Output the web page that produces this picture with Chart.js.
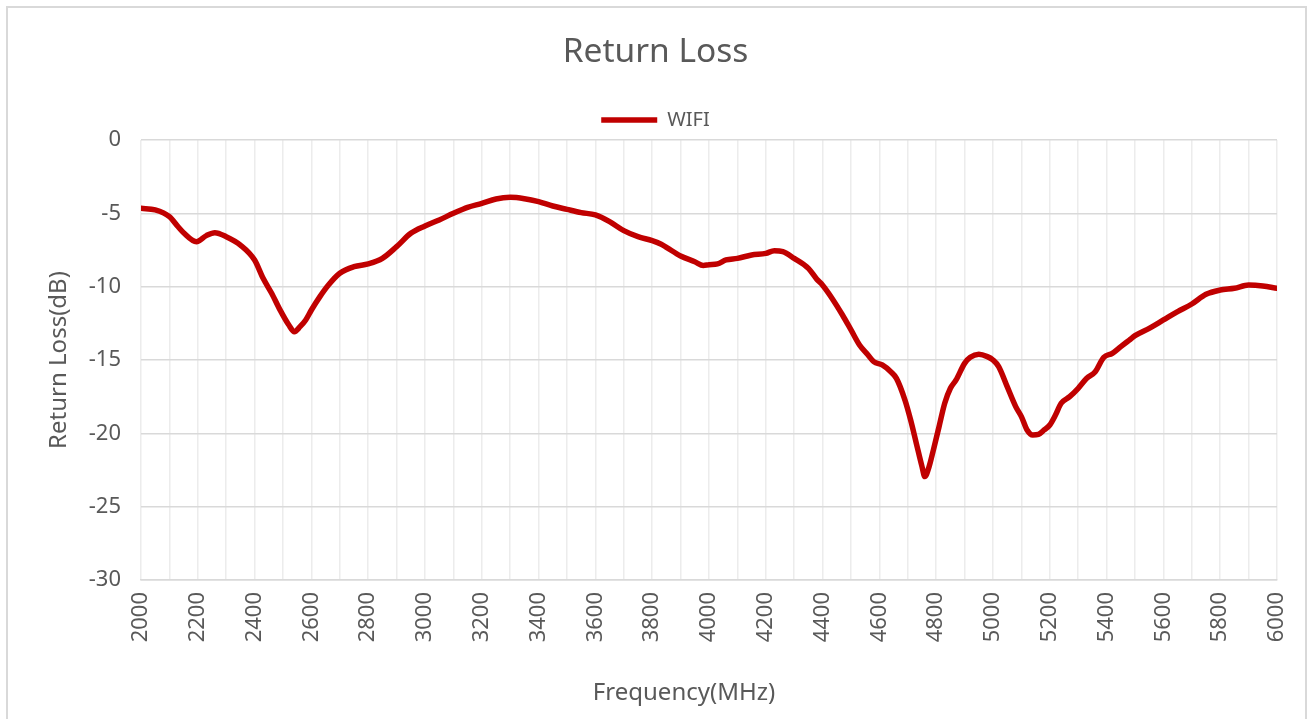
<!DOCTYPE html>
<html>
<head>
<meta charset="utf-8">
<script src="https://cdn.jsdelivr.net/npm/chart.js@4"></script>
<style>
  body { margin: 0; background: #fff; }
  #frame { position: absolute; left: 6px; top: 6px; width: 1297px; height: 740px; border: 2px solid #d9d9d9; }
  #wrap { position: absolute; left: 0; top: 0; width: 1309px; height: 719px; }
</style>
</head>
<body>
<div id="frame"></div>
<div id="wrap"><canvas id="myChart"></canvas></div>
<script>
// return loss of the WIFI antenna
var freqs = [2000, 2050, 2100, 2130, 2150, 2195, 2230, 2260, 2300, 2350,
    2400, 2430, 2460, 2490, 2520, 2540, 2560, 2580, 2600, 2630,
    2660, 2700, 2750, 2800, 2850, 2900, 2950, 3000, 3050, 3100,
    3150, 3200, 3250, 3300, 3350, 3400, 3450, 3500, 3550, 3600,
    3650, 3700, 3750, 3800, 3830, 3850, 3900, 3950, 3980, 4000,
    4030, 4060, 4100, 4150, 4200, 4230, 4260, 4300, 4350, 4380,
    4400, 4430, 4470, 4500, 4530, 4560, 4580, 4610, 4640, 4660,
    4690, 4710, 4730, 4750, 4760, 4775, 4790, 4810, 4830, 4850,
    4870, 4900, 4920, 4950, 4980, 5000, 5020, 5050, 5080, 5100,
    5120, 5140, 5160, 5180, 5200, 5220, 5240, 5270, 5300, 5330,
    5360, 5390, 5420, 5450, 5480, 5500, 5550, 5600, 5650, 5700,
    5750, 5800, 5850, 5900, 5950, 6000];
var wifi = [-4.66, -4.77, -5.23, -5.9, -6.32, -6.93, -6.52, -6.32, -6.59, -7.16,
    -8.18, -9.43, -10.45, -11.6, -12.6, -13.07, -12.73, -12.27, -11.59, -10.68,
    -9.89, -9.09, -8.64, -8.45, -8.07, -7.27, -6.36, -5.86, -5.45, -5.0,
    -4.59, -4.32, -4.02, -3.91, -4.0, -4.2, -4.5, -4.73, -4.95, -5.11,
    -5.57, -6.18, -6.59, -6.86, -7.09, -7.32, -7.91, -8.3, -8.55, -8.5,
    -8.45, -8.18, -8.07, -7.84, -7.73, -7.55, -7.61, -8.07, -8.75, -9.5,
    -9.9, -10.7, -11.93, -12.95, -13.98, -14.66, -15.11, -15.34, -15.8, -16.25,
    -17.73, -19.09, -20.68, -22.27, -22.95, -22.27, -21.14, -19.55, -17.95, -16.93,
    -16.36, -15.23, -14.82, -14.61, -14.77, -15.0, -15.45, -16.82, -18.18, -18.86,
    -19.77, -20.11, -20.07, -19.77, -19.43, -18.75, -17.95, -17.5, -16.93, -16.25,
    -15.8, -14.82, -14.55, -14.09, -13.64, -13.34, -12.84, -12.27, -11.7, -11.18,
    -10.52, -10.23, -10.11, -9.89, -9.95, -10.11];

var points = freqs.map(function(f, i){ return {x: f, y: wifi[i]}; });

Chart.defaults.font.family = '"Noto Sans", sans-serif';
Chart.defaults.color = '#595959';

var ctx = document.getElementById('myChart').getContext('2d');
var myChart = new Chart(ctx, {
    type: 'line',
    data: {
        datasets: [{
            label: 'WIFI',
            data: points,
            borderColor: '#c00000',
            backgroundColor: '#c00000',
            borderWidth: 5.5,
            borderCapStyle: 'round',
            borderJoinStyle: 'round',
            pointRadius: 0,
            cubicInterpolationMode: 'monotone',
            fill: false
        }]
    },
    options: {
        responsive: true,
        maintainAspectRatio: false,
        animation: false,
        layout: { padding: { top: 10, left: 34, right: 32, bottom: 0 } },
        plugins: {
            title: {
                display: true,
                text: 'Return Loss',
                color: '#595959',
                font: { size: 33.5, weight: 'normal', lineHeight: 1.2 },
                padding: { top: 22, bottom: 27.8 }
            },
            legend: {
                display: true,
                position: 'top',
                labels: {
                    usePointStyle: true,
                    pointStyle: 'line',
                    pointStyleWidth: 56,
                    padding: 10,
                    color: '#595959',
                    font: { size: 20 }
                }
            },
            tooltip: { enabled: false }
        },
        scales: {
            x: {
                type: 'linear',
                min: 2000,
                max: 6000,
                afterFit: function(scale){
                    scale.height = 139;
                    scale.paddingLeft = 0;
                    scale.paddingRight = 0;
                },
                grid: { color: '#ececec', lineWidth: 1.5, drawTicks: false },
                border: { color: '#d9d9d9', width: 1.5 },
                ticks: {
                    stepSize: 100,
                    autoSkip: false,
                    minRotation: 90,
                    maxRotation: 90,
                    padding: 12,
                    font: { size: 22 },
                    callback: function(v){ return v % 200 === 0 ? String(v) : ''; }
                },
                title: {
                    display: true,
                    text: 'Frequency(MHz)        ',
                    font: { size: 24, lineHeight: 1.2 },
                    padding: { top: 0, bottom: 11.6 }
                }
            },
            y: {
                min: -30,
                max: 0,
                afterFit: function(scale){ scale.width = 107; },
                grid: { color: '#d9d9d9', lineWidth: 1.5, drawTicks: false },
                border: { display: false },
                ticks: {
                    stepSize: 5,
                    padding: 20,
                    font: { size: 22 },
                    callback: function(v){ return String(v); }
                },
                title: {
                    display: true,
                    text: 'Return Loss(dB)',
                    font: { size: 24, lineHeight: 1.2 },
                    padding: { top: 10.6, bottom: 0 }
                }
            }
        }
    }
});
</script>
</body>
</html>
